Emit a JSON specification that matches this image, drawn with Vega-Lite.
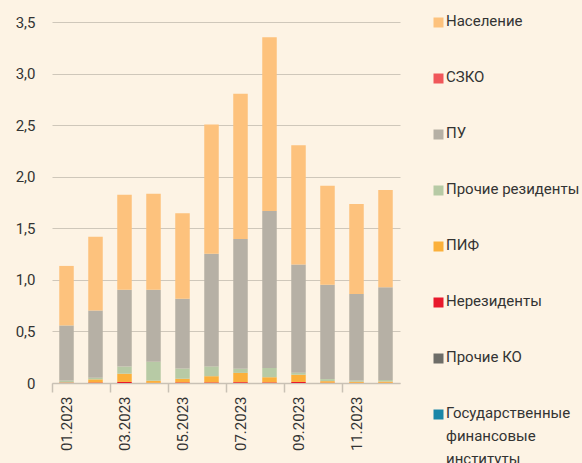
{
  "$schema": "https://vega.github.io/schema/vega-lite/v6.json",
  "width": 348,
  "height": 361,
  "autosize": {"type": "none"},
  "padding": {"left": 52, "top": 22, "right": 182, "bottom": 80},
  "background": "#FDF3E4",
  "config": {"view": {"stroke": null}, "font": "Roboto"},
  "data": {"values": [
    {"month": "01.2023", "cat": "Нерезиденты", "value": 0.003},
    {"month": "01.2023", "cat": "ПИФ", "value": 0.003},
    {"month": "01.2023", "cat": "Прочие резиденты", "value": 0.017},
    {"month": "01.2023", "cat": "ПУ", "value": 0.535},
    {"month": "01.2023", "cat": "Население", "value": 0.577},
    {"month": "02.2023", "cat": "Нерезиденты", "value": 0.005},
    {"month": "02.2023", "cat": "ПИФ", "value": 0.030},
    {"month": "02.2023", "cat": "Прочие резиденты", "value": 0.016},
    {"month": "02.2023", "cat": "ПУ", "value": 0.652},
    {"month": "02.2023", "cat": "Население", "value": 0.716},
    {"month": "03.2023", "cat": "Нерезиденты", "value": 0.010},
    {"month": "03.2023", "cat": "ПИФ", "value": 0.080},
    {"month": "03.2023", "cat": "Прочие резиденты", "value": 0.070},
    {"month": "03.2023", "cat": "ПУ", "value": 0.743},
    {"month": "03.2023", "cat": "Население", "value": 0.921},
    {"month": "04.2023", "cat": "Нерезиденты", "value": 0.002},
    {"month": "04.2023", "cat": "ПИФ", "value": 0.020},
    {"month": "04.2023", "cat": "Прочие резиденты", "value": 0.185},
    {"month": "04.2023", "cat": "ПУ", "value": 0.696},
    {"month": "04.2023", "cat": "Население", "value": 0.931},
    {"month": "05.2023", "cat": "Нерезиденты", "value": 0.006},
    {"month": "05.2023", "cat": "ПИФ", "value": 0.035},
    {"month": "05.2023", "cat": "Прочие резиденты", "value": 0.100},
    {"month": "05.2023", "cat": "ПУ", "value": 0.675},
    {"month": "05.2023", "cat": "Население", "value": 0.829},
    {"month": "06.2023", "cat": "Нерезиденты", "value": 0.006},
    {"month": "06.2023", "cat": "ПИФ", "value": 0.060},
    {"month": "06.2023", "cat": "Прочие резиденты", "value": 0.095},
    {"month": "06.2023", "cat": "ПУ", "value": 1.091},
    {"month": "06.2023", "cat": "Население", "value": 1.255},
    {"month": "07.2023", "cat": "Нерезиденты", "value": 0.008},
    {"month": "07.2023", "cat": "ПИФ", "value": 0.090},
    {"month": "07.2023", "cat": "Прочие резиденты", "value": 0.040},
    {"month": "07.2023", "cat": "ПУ", "value": 1.259},
    {"month": "07.2023", "cat": "Население", "value": 1.407},
    {"month": "08.2023", "cat": "Нерезиденты", "value": 0.006},
    {"month": "08.2023", "cat": "ПИФ", "value": 0.050},
    {"month": "08.2023", "cat": "Прочие резиденты", "value": 0.090},
    {"month": "08.2023", "cat": "ПУ", "value": 1.522},
    {"month": "08.2023", "cat": "Население", "value": 1.684},
    {"month": "09.2023", "cat": "Нерезиденты", "value": 0.010},
    {"month": "09.2023", "cat": "ПИФ", "value": 0.070},
    {"month": "09.2023", "cat": "Прочие резиденты", "value": 0.020},
    {"month": "09.2023", "cat": "ПУ", "value": 1.048},
    {"month": "09.2023", "cat": "Население", "value": 1.156},
    {"month": "10.2023", "cat": "Нерезиденты", "value": 0.003},
    {"month": "10.2023", "cat": "ПИФ", "value": 0.015},
    {"month": "10.2023", "cat": "Прочие резиденты", "value": 0.020},
    {"month": "10.2023", "cat": "ПУ", "value": 0.914},
    {"month": "10.2023", "cat": "Население", "value": 0.961},
    {"month": "11.2023", "cat": "Нерезиденты", "value": 0.002},
    {"month": "11.2023", "cat": "ПИФ", "value": 0.010},
    {"month": "11.2023", "cat": "Прочие резиденты", "value": 0.013},
    {"month": "11.2023", "cat": "ПУ", "value": 0.839},
    {"month": "11.2023", "cat": "Население", "value": 0.872},
    {"month": "12.2023", "cat": "Нерезиденты", "value": 0.002},
    {"month": "12.2023", "cat": "ПИФ", "value": 0.012},
    {"month": "12.2023", "cat": "Прочие резиденты", "value": 0.015},
    {"month": "12.2023", "cat": "ПУ", "value": 0.900},
    {"month": "12.2023", "cat": "Население", "value": 0.942}
  ]},
  "transform": [
    {"calculate": "indexof(['Население','СЗКО','ПУ','Прочие резиденты','ПИФ','Нерезиденты','Прочие КО','Государственные финансовые институты'], datum.cat)", "as": "ord"}
  ],
  "mark": {"type": "bar", "width": {"band": 0.5}},
  "encoding": {
    "x": {
      "field": "month",
      "type": "ordinal",
      "sort": null,
      "title": null,
      "scale": {"paddingInner": 0, "paddingOuter": 0},
      "axis": {
        "values": ["01.2023", "03.2023", "05.2023", "07.2023", "09.2023", "11.2023"],
        "bandPosition": 0,
        "labelAngle": -90,
        "labelFontSize": 15,
        "labelColor": "#333333",
        "labelPadding": 4,
        "tickSize": 9,
        "tickColor": "#C9C1B5",
        "tickWidth": 1.5,
        "domainColor": "#C9C1B5",
        "domainWidth": 1.5,
        "grid": false
      }
    },
    "y": {
      "field": "value",
      "type": "quantitative",
      "stack": "zero",
      "title": null,
      "scale": {"domain": [0, 3.5], "nice": false},
      "axis": {
        "values": [0, 0.5, 1, 1.5, 2, 2.5, 3, 3.5],
        "labelExpr": "datum.value == 0 ? '0' : replace(format(datum.value, '.1f'), '.', ',')",
        "domain": false,
        "ticks": false,
        "tickSize": 0,
        "labelPadding": 17,
        "labelFontSize": 15,
        "labelColor": "#333333",
        "gridColor": "#CFC7BA",
        "gridWidth": 1.2
      }
    },
    "color": {
      "field": "cat",
      "type": "nominal",
      "scale": {
        "domain": ["Население", "СЗКО", "ПУ", "Прочие резиденты", "ПИФ", "Нерезиденты", "Прочие КО", "Государственные финансовые институты"],
        "range": ["#FDC27D", "#F0575A", "#B6B0A5", "#B7CAA5", "#FBB03B", "#E8192C", "#6E6D68", "#1A86A8"]
      },
      "legend": {
        "title": null,
        "orient": "none",
        "legendX": 379,
        "legendY": -7,
        "padding": 0,
        "symbolType": "square",
        "symbolSize": 100,
        "symbolStrokeWidth": 0,
        "labelFontSize": 15,
        "labelColor": "#333333",
        "labelOffset": 0,
        "labelLimit": 200,
        "labelBaseline": "top",
        "rowPadding": 40,
        "labelExpr": "datum.label == 'Государственные финансовые институты' ? ['Государственные', 'финансовые', 'институты'] : datum.label",
        "encode": {
          "labels": {"update": {"dy": {"value": -9}, "lineHeight": {"value": 23}}}
        }
      }
    },
    "order": {"field": "ord", "type": "quantitative", "sort": "descending"}
  }
}
